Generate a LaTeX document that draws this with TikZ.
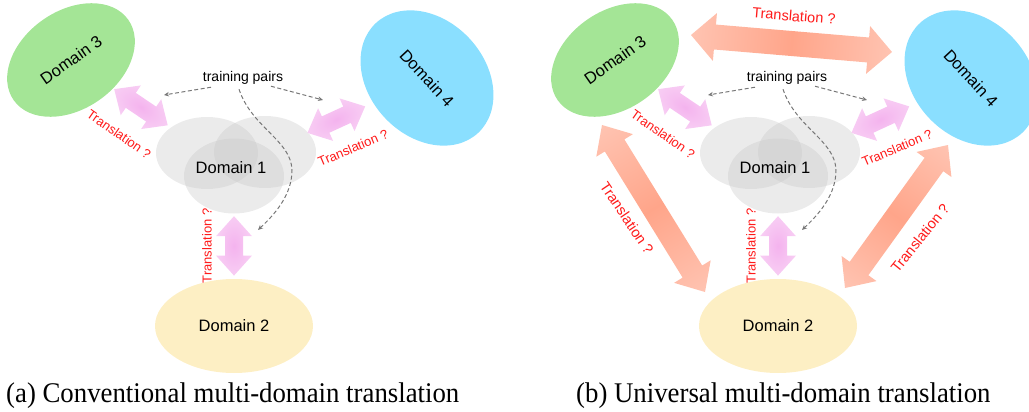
\documentclass[tikz,border=0pt]{standalone}
\usepackage{fontspec}
\setsansfont{Liberation Sans}
\newfontfamily\capfont[FakeStretch=0.94]{Liberation Serif}
\usetikzlibrary{arrows.meta,calc,shapes.geometric}
\definecolor{dthree}{HTML}{A4E596}
\definecolor{dfour}{HTML}{8ADFFF}
\definecolor{dtwo}{HTML}{FDEFC4}
\definecolor{cloudgray}{HTML}{C6C6C6}
\definecolor{pairgray}{HTML}{777777}
\definecolor{pinkC}{HTML}{F4B3EE}
\definecolor{pinkE}{HTML}{FADDF7}
\definecolor{salC}{HTML}{FFA58A}
\definecolor{salE}{HTML}{FFE2D9}
\definecolor{tred}{HTML}{FF1A1A}
\pgfdeclareradialshading{pinkglow}{\pgfpoint{0bp}{0bp}}{color(0bp)=(pinkC); color(40bp)=(pinkE); color(50bp)=(pinkE)}
\pgfdeclarehorizontalshading{salfade}{100bp}{color(0bp)=(salE); color(50bp)=(salC); color(100bp)=(salE)}
\tikzset{
  dom/.style={ellipse, inner sep=0pt, font=\sffamily\fontsize{16.5}{18}\selectfont},
  dtext/.style={inner sep=0pt, font=\sffamily\fontsize{16.5}{18}\selectfont},
  cloud/.style={ellipse, fill=cloudgray, fill opacity=0.35, inner sep=0pt, minimum width=102pt, minimum height=72pt},
  tlabel/.style={text=tred, inner sep=0pt, font=\sffamily\fontsize{13}{14}\selectfont},
  bigtlabel/.style={tlabel, font=\sffamily\fontsize{14.5}{16}\selectfont},
  pairtext/.style={inner sep=1pt, font=\sffamily\fontsize{14}{16}\selectfont},
  pair/.style={draw=pairgray, line width=1pt, dash pattern=on 4pt off 2.5pt, -{Stealth[length=5pt,width=4.5pt]}},
  captext/.style={anchor=base west, inner sep=0pt, font=\capfont\fontsize{28.5}{30}\selectfont},
}
\newcommand{\fatarrow}[6]{%
  \path let \p1=#2, \p2=#3 in \pgfextra{%
    \pgfmathsetmacro\fatl{veclen((\x2)-(\x1),(\y2)-(\y1))}%
    \pgfmathsetmacro\fata{atan2((\y2)-(\y1),(\x2)-(\x1))}%
    \xdef\fatlen{\fatl}\xdef\fatang{\fata}\xdef\fatx{\x1}\xdef\faty{\y1}};
  \begin{scope}[transform canvas={shift={(\fatx,\faty)},rotate=\fatang}]
    \shade[reset cm, shading=#1] (0,0) -- (#6,#5) -- (#6,#4) -- (\fatlen-#6,#4) -- (\fatlen-#6,#5)
      -- (\fatlen,0) -- (\fatlen-#6,-#5) -- (\fatlen-#6,-#4) -- (#6,-#4) -- (#6,-#5) -- cycle;
  \end{scope}}

\begin{document}
\begin{tikzpicture}[x=1pt,y=-1pt]
  \useasboundingbox (0,0) rectangle (1029,412);
  \clip (0,0) rectangle (1029,412);
  \foreach \dx/\pn in {0/a,544/b} {
    \begin{scope}[xshift=\dx pt]
    \node[cloud] (c1\pn) at (207,153) {};
    \node[cloud] (c2\pn) at (265,152) {};
    \node[cloud, minimum width=100pt, minimum height=75pt] (c3\pn) at (234,176) {};
    \node[dtext] (d1\pn) at (231,168) {Domain 1};
    \node[dom, fill=dtwo, minimum width=158pt, minimum height=94pt] (d2\pn) at (234,326) {Domain 2};
    \node[dom, fill=dthree, minimum width=140pt, minimum height=98pt, rotate=35] (d3\pn) at (71,60) {Domain 3};
    \node[dom, fill=dfour, minimum width=150pt, minimum height=116pt, rotate=-47] (d4\pn) at (427,78) {Domain 4};
    \node[pairtext] (tp\pn) at (243,77.5) {training pairs};
    \coordinate (tl\pn) at (164,95);
    \coordinate (tr\pn) at (323,100);
    \coordinate (tb\pn) at (258,230);
    \draw[pair] ($(tp\pn.south)+(-32,2)$) -- (tl\pn);
    \draw[pair] ($(tp\pn.south)+(28,1)$) -- (tr\pn);
    \draw[pair] ($(tp\pn.south)+(-4,4)$) .. controls (252,128) and (291,140) .. (292,170)
      .. controls (292,195) and (275,214) .. (tb\pn);
    \node[tlabel, rotate=-35] (l31\pn) at (119,134) {Translation ?};
    \node[tlabel, rotate=23] (l14\pn) at (353,148) {Translation ?};
    \node[tlabel, rotate=90] (l12\pn) at (207,246) {Translation ?};
    \end{scope}
    \fatarrow{pinkglow}{($(d3\pn)!.27!(d1\pn)$)}{($(d3\pn)!.605!(d1\pn)$)}{9}{18}{20}
    \fatarrow{pinkglow}{($(d1\pn)!.39!(d4\pn)$)}{($(d1\pn)!.685!(d4\pn)$)}{9}{18}{20}
    \fatarrow{pinkglow}{($(c3\pn)!.268!(d2\pn)$)}{($(c3\pn)!.664!(d2\pn)$)}{9}{18}{20}
  }
  \coordinate (s3t) at (691,35);
  \coordinate (s4t) at (892,52);
  \coordinate (s3l) at (602,125);
  \coordinate (s2l) at (705,292);
  \coordinate (s2r) at (845,288);
  \coordinate (s4r) at (948,145);
  \fatarrow{salfade}{(s3t)}{(s4t)}{12.5}{24}{24}
  \fatarrow{salfade}{(s3l)}{(s2l)}{11.5}{21.5}{24}
  \fatarrow{salfade}{(s2r)}{(s4r)}{11.5}{21.5}{24}
  \node[bigtlabel, rotate=-4.5] (l34) at (794,16) {Translation ?};
  \node[bigtlabel, rotate=-56] (l32) at (627,218) {Translation ?};
  \node[bigtlabel, rotate=51] (l24) at (920,238) {Translation ?};
  \node[captext] (capa) at (6,402) {(a) Conventional multi-domain translation};
  \node[captext] (capb) at (576,402) {(b) Universal multi-domain translation};
\end{tikzpicture}
\end{document}
